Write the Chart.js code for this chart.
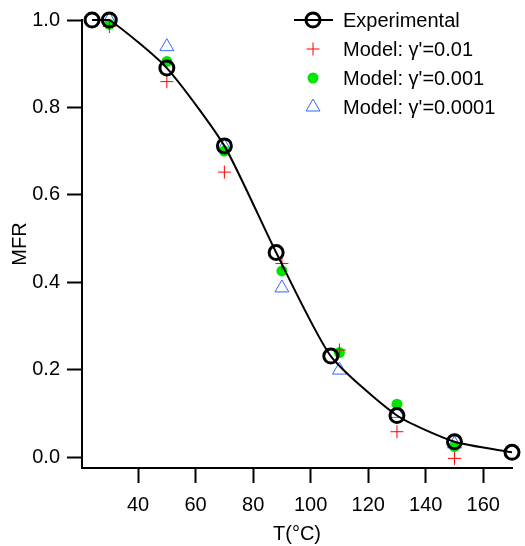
<!DOCTYPE html>
<html>
<head>
<meta charset="utf-8">
<script src="https://cdn.jsdelivr.net/npm/chart.js@4"></script>
<style>
  html, body { margin: 0; padding: 0; background: #fff; }
  #wrap { width: 525px; height: 546px; }
</style>
</head>
<body>
<div id="wrap"><canvas id="chart" width="525" height="546"></canvas></div>
<script>
// data
const expT = [24, 30, 50, 70, 88, 107, 130, 150, 170];
const expMFR = [1.0, 1.0, 0.89, 0.712, 0.468, 0.231, 0.095, 0.035, 0.011];

const modelT = [30, 50, 70, 90, 110, 130, 150];
const model001 = [0.985, 0.859, 0.652, 0.443, 0.245, 0.058, -0.003];
const model0001 = [0.99, 0.905, 0.70, 0.426, 0.239, 0.121, 0.024];
const model00001 = [1.0, 0.939, 0.71, 0.387, 0.199, 0.10, 0.03];

const xTicks = [40, 60, 80, 100, 120, 140, 160];
const yTicks = [0.0, 0.2, 0.4, 0.6, 0.8, 1.0];

const pts = (xs, ys) => xs.map((x, i) => ({ x: x, y: ys[i] }));
const FONT = '"Liberation Sans", Arial, Helvetica, sans-serif';

// legend drawn inside the plot, top right
const legendPlugin = {
  id: 'innerLegend',
  afterDraw(chart) {
    const ctx = chart.ctx;
    const x0 = 313, textX = 343, y0 = 20, dy = 29;
    ctx.save();
    ctx.font = '20px ' + FONT;
    ctx.textBaseline = 'middle';
    ctx.textAlign = 'left';
    chart.data.datasets.forEach((ds, i) => {
      const y = y0 + i * dy;
      ctx.strokeStyle = ds.pointBorderColor;
      ctx.fillStyle = ds.pointBackgroundColor;
      ctx.lineWidth = ds.pointBorderWidth;
      if (ds.showLine) {
        ctx.beginPath();
        ctx.lineWidth = ds.borderWidth;
        ctx.strokeStyle = ds.borderColor;
        ctx.moveTo(294, y); ctx.lineTo(333, y);
        ctx.stroke();
        ctx.lineWidth = ds.pointBorderWidth;
        ctx.strokeStyle = ds.pointBorderColor;
      }
      Chart.helpers.drawPoint(ctx, {
        pointStyle: ds.pointStyle,
        radius: ds.pointRadius,
        rotation: 0,
        borderWidth: ds.pointBorderWidth
      }, x0, y);
      ctx.fillStyle = '#000';
      ctx.fillText(ds.label, textX, y + 1);
    });
    ctx.restore();
  }
};

new Chart(document.getElementById('chart'), {
  type: 'scatter',
  data: {
    datasets: [
      {
        label: 'Experimental',
        data: pts(expT, expMFR),
        showLine: true,
        tension: 0.2,
        borderColor: '#000',
        borderWidth: 2,
        pointStyle: 'circle',
        pointRadius: 7,
        pointBorderWidth: 3,
        pointBorderColor: '#000',
        pointBackgroundColor: 'rgba(0,0,0,0)',
        clip: false
      },
      {
        label: "Model: \u03b3'=0.01",
        data: pts(modelT, model001),
        pointStyle: 'cross',
        pointRadius: 6.5,
        pointBorderWidth: 1,
        pointBorderColor: '#ff0000',
        pointBackgroundColor: '#ff0000',
        clip: false
      },
      {
        label: "Model: \u03b3'=0.001",
        data: pts(modelT, model0001),
        pointStyle: 'circle',
        pointRadius: 5.5,
        pointBorderWidth: 0,
        pointBorderColor: '#00e600',
        pointBackgroundColor: '#00e600',
        clip: false
      },
      {
        label: "Model: \u03b3'=0.0001",
        data: pts(modelT, model00001),
        pointStyle: 'triangle',
        pointRadius: 8,
        pointBorderWidth: 1,
        pointBorderColor: '#3366ff',
        pointBackgroundColor: 'rgba(0,0,0,0)',
        clip: false
      }
    ]
  },
  options: {
    responsive: false,
    animation: false,
    devicePixelRatio: 1,
    layout: { padding: { top: 20, right: 13, left: 0, bottom: 0 } },
    plugins: { legend: { display: false }, tooltip: { enabled: false } },
    scales: {
      x: {
        type: 'linear',
        min: 20.5,
        max: 170,
        afterBuildTicks: s => { s.ticks = xTicks.map(v => ({ value: v })); },
        afterFit: s => { s.height = 78; },
        grid: { drawOnChartArea: false, drawTicks: true, tickLength: 15, tickWidth: 2, tickColor: '#000' },
        border: { display: true, color: '#000', width: 2 },
        ticks: { color: '#000', font: { family: FONT, size: 20 }, padding: 10, maxRotation: 0 },
        title: { display: true, text: 'T(\u00b0C)', color: '#000', font: { family: FONT, size: 20 }, padding: { top: 0, bottom: 0 } }
      },
      y: {
        min: -0.025,
        max: 1.0,
        afterBuildTicks: s => { s.ticks = yTicks.map(v => ({ value: v })); },
        afterFit: s => { s.width = 82; },
        grid: { drawOnChartArea: false, drawTicks: true, tickLength: 15, tickWidth: 2, tickColor: '#000' },
        border: { display: true, color: '#000', width: 2 },
        ticks: { color: '#000', font: { family: FONT, size: 20 }, padding: 7, callback: v => v.toFixed(1) },
        title: { display: true, text: 'MFR', color: '#000', font: { family: FONT, size: 20 }, padding: { top: 8, bottom: 0 } }
      }
    }
  },
  plugins: [legendPlugin]
});
</script>
</body>
</html>
